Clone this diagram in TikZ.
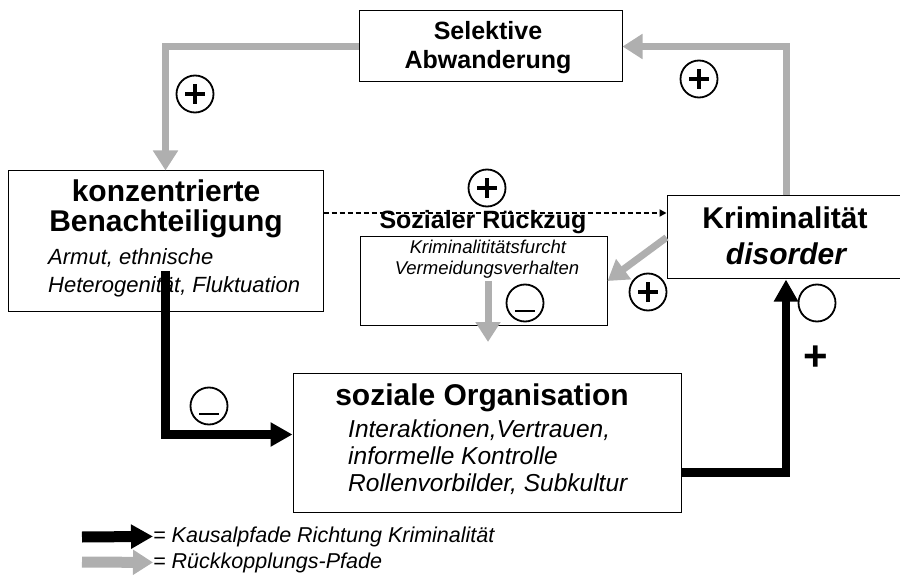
\documentclass[tikz,border=0pt]{standalone}
\usepackage{fontspec}
\setmainfont{Liberation Sans}
\usepackage{xcolor}
\usepackage{tikz}
\usetikzlibrary{positioning, arrows.meta}

\definecolor{feedgray}{RGB}{175,175,175}

\begin{document}
\begin{tikzpicture}[x=1pt, y=-1pt,
    every node/.style={inner sep=0pt},
    box/.style={draw, rectangle, line width=1pt},
    bigfont/.style={font=\fontsize{30}{30}\selectfont\bfseries},
    midfont/.style={font=\fontsize{25}{25}\selectfont\bfseries},
    subfont/.style={font=\fontsize{22}{22}\selectfont\itshape},
    orgfont/.style={font=\fontsize{24.5}{24.5}\selectfont\itshape},
    smallfont/.style={font=\fontsize{18.5}{18.5}\selectfont\itshape},
    legfont/.style={font=\fontsize{21.5}{21.5}\selectfont\itshape},
    causal/.style={line width=8.5pt, -{Triangle[width=23pt,length=22pt]}},
    feedback/.style={feedgray, line width=7pt, -{Triangle[width=24pt,length=20pt]}},
    dashline/.style={line width=1.8pt, dash pattern=on 5pt off 3pt, -{Triangle[width=7pt,length=7pt]}},
    signcirc/.style={circle, draw, line width=1.8pt, minimum size=37pt, fill=white},
    plussign/.style={signcirc, path picture={
        \draw[line width=4pt] ([xshift=-10pt]path picture bounding box.center) -- ([xshift=10pt]path picture bounding box.center);
        \draw[line width=4pt] ([yshift=-10pt]path picture bounding box.center) -- ([yshift=10pt]path picture bounding box.center);}},
    minussign/.style={signcirc, path picture={
        \draw[line width=2.5pt] ([xshift=-10pt,yshift=-8pt]path picture bounding box.center) -- ([xshift=10pt,yshift=-8pt]path picture bounding box.center);}}
]
    \useasboundingbox (0,0) rectangle (900,580);

    % boxes
    \node[box, minimum width=315pt, minimum height=140pt] (benach) at (165.5,241) {};
    \node[box, minimum width=263pt, minimum height=71pt] (selektiv) at (490.5,46.5) {};
    \node[box, minimum width=238pt, minimum height=83pt] (krim) at (786,237.5) {};
    \node[box, minimum width=247pt, minimum height=88pt] (rueckzug) at (483.5,281) {};
    \node[box, minimum width=388pt, minimum height=139pt] (sozorg) at (487,442.5) {};

    % texts
    \node[bigfont, anchor=base] (benachA) at (166,202) {konzentrierte};
    \node[bigfont, anchor=base] (benachB) at (166,232) {Benachteiligung};
    \node[subfont, anchor=base west] (benachC) at (48,265) {Armut, ethnische};
    \node[subfont, anchor=base west] (benachD) at (48,293) {Heterogenität, Fluktuation};

    \node[midfont, anchor=base] (selektivA) at (488,40) {Selektive};
    \node[midfont, anchor=base] (selektivB) at (488,69) {Abwanderung};

    \node[bigfont, anchor=base] (krimA) at (785,229) {Kriminalität};
    \node[bigfont, anchor=base] (krimB) at (786,265) {\itshape disorder};

    \node[midfont, anchor=base] (rueckzugA) at (483,229) {Sozialer Rückzug};
    \node[smallfont, anchor=base] (rueckzugB) at (488,254) {Kriminalititätsfurcht};
    \node[smallfont, anchor=base] (rueckzugC) at (487,275) {Vermeidungsverhalten};

    \node[bigfont, anchor=base] (sozorgA) at (482,405) {soziale Organisation};
    \node[orgfont, anchor=base west] (sozorgB) at (348,437) {Interaktionen,Vertrauen,};
    \node[orgfont, anchor=base west] (sozorgC) at (348,464) {informelle Kontrolle};
    \node[orgfont, anchor=base west] (sozorgD) at (348,491) {Rollenvorbilder, Subkultur};

    % legend
    \node[legfont, anchor=base west] (legA) at (153,542) {= Kausalpfade Richtung Kriminalität};
    \node[legfont, anchor=base west] (legB) at (153,568) {= Rückkopplungs-Pfade};
    \coordinate (kA) at (82,537);
    \coordinate (kB) at (82,562);

    % feedback paths
    \coordinate (rzend) at (488,342);
    \draw[feedback] (selektiv.west) -| (benach.north);
    \draw[feedback] (krim.north) |- (selektiv.east);
    \draw[feedback] (krim.west) -- (rueckzug.east);
    \draw[feedback] (rueckzug.center -| rzend) -- (rzend);
    \draw[dashline] (benach.east |- 0,213) -- (krim.west |- 0,213);

    % causal paths
    \draw[causal] (benach.center |- 0,271) |- ([yshift=8pt]sozorg.west);
    \draw[causal] ([yshift=-30pt]sozorg.east) -| (krim.south);

    \draw[causal, line width=11pt] (kA) -- (legA.west);
    \draw[feedback, line width=11pt] (kB) -- (legB.west);

    % signs
    \node[plussign] (pSel) at (195,94) {};
    \node[plussign] (pKrim) at (699,79) {};
    \node[plussign] (pDash) at (487,188) {};
    \node[plussign] (pRueck) at (648,292) {};
    \node[minussign] (mBen) at (209,406) {};
    \node[minussign] (mRueck) at (525,303) {};
    \node[signcirc] (oKrim) at (817,303) {};
    \node[font=\fontsize{42}{42}\selectfont\bfseries] (plusK) at (816,358) {+};
\end{tikzpicture}
\end{document}
